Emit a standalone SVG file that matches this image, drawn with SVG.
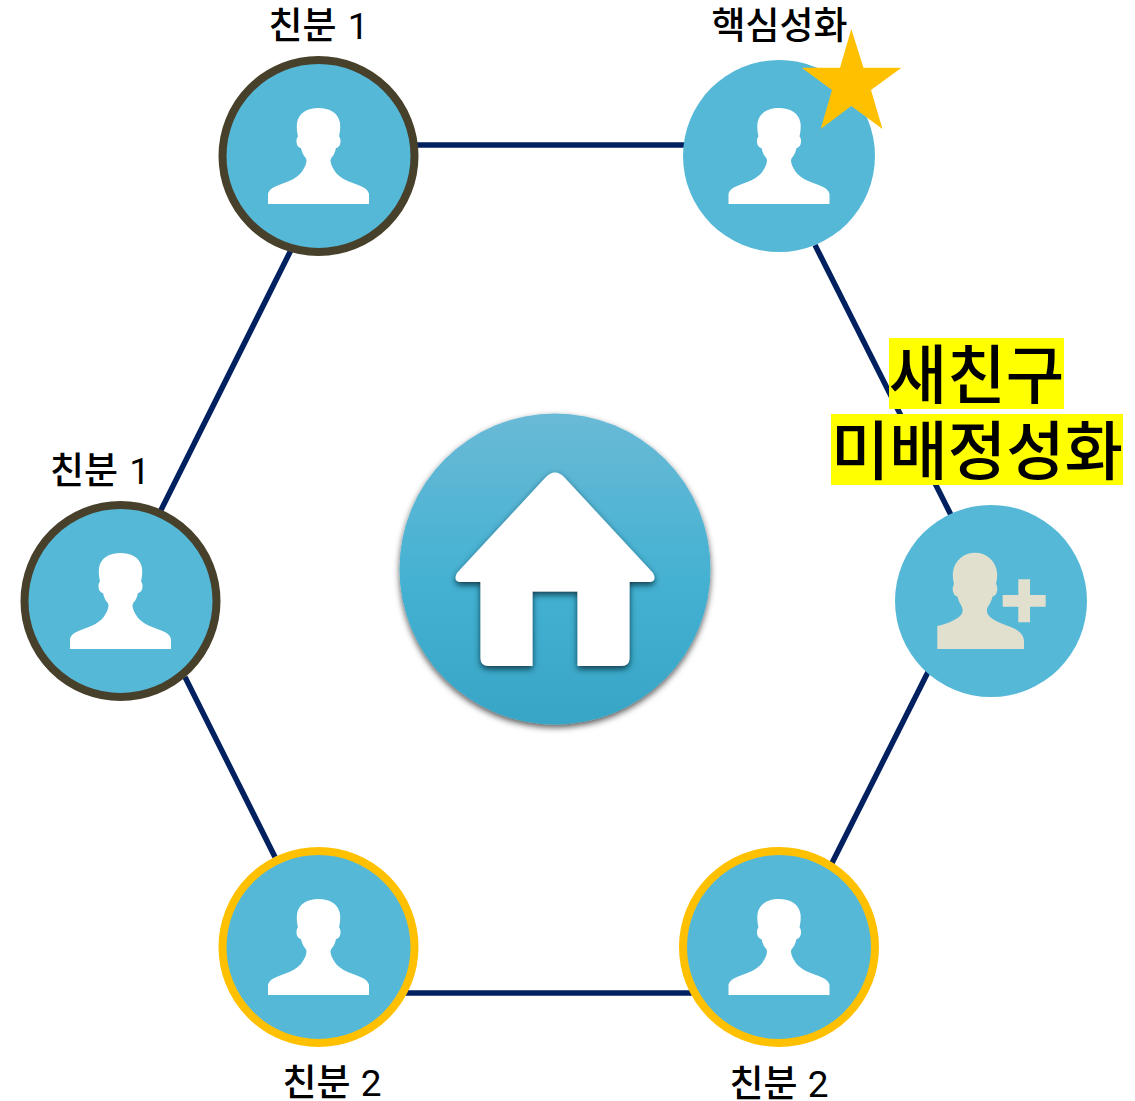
<svg xmlns="http://www.w3.org/2000/svg" width="1135" height="1101" viewBox="0 0 1135 1101">
<style>
text{font-family:Roboto,"Noto Sans CJK KR","Noto Sans",sans-serif;fill:#000;text-anchor:middle;font-weight:500}
text tspan{font-weight:400}
.lb{font-size:37px}
.big{font-size:63.500px}
.c{fill:#56B8D7}
.dark{stroke:#47402A;stroke-width:8}
.gold{stroke:#FFC000;stroke-width:8}
#connectors line{stroke:#002060;stroke-width:5.500;fill:none}
.hl{fill:#FFFF00}
</style>
<defs>
<linearGradient id="hg" x1="0" y1="0" x2="0" y2="1"><stop offset="0" stop-color="#69BAD6"/><stop offset=".55" stop-color="#44B1D2"/><stop offset="1" stop-color="#38A5C6"/></linearGradient>
<filter id="s1" x="-10%" y="-10%" width="120%" height="120%"><feDropShadow dx="0" dy="3" stdDeviation="3" flood-color="#000" flood-opacity=".65"/></filter>
<filter id="s2" x="-10%" y="-10%" width="120%" height="120%"><feDropShadow dx="0" dy="3" stdDeviation="3" flood-color="#0b3a4c" flood-opacity="1"/></filter>
<path id="p" fill="#fff" d="M-50.500 48V38C-49.500 33-44 30.500-37 28C-28 25-20 21-16.500 15.500C-13.500 11-12 7.500-12 4.500C-12 2-14 1-15 -1C-16.500 -4-17 -6-17.500 -8C-21 -8.500-22 -12-22 -15C-22 -17-21.500 -18.500-20.500 -19.500C-21.500 -24-22 -28-21.500 -33C-20 -43-11 -48 0 -48C11 -48 20 -43 21.500 -33C22 -28 21.500 -24 20.500 -19.500C21.500 -18.500 22 -17 22 -15C22 -12 21 -8.500 17.500 -8C17 -6 16.500 -4 15 -1C14 1 12 2 12 4.500C12 7.500 13.500 11 16.500 15.500C20 21 28 25 37 28C44 30.500 49.500 33 50.500 38V48Z"/>
</defs>
<g id="connectors">
<line x1="319" y1="145" x2="779" y2="145"/>
<line x1="815" y1="245" x2="952" y2="517"/>
<line x1="928" y1="672" x2="832" y2="863"/>
<line x1="319" y1="993" x2="779" y2="993"/>
<line x1="185" y1="677" x2="275" y2="857"/>
<line x1="291" y1="250" x2="160" y2="512"/>
</g>
<g id="home">
<circle cx="555" cy="569" r="155.500" fill="url(#hg)" filter="url(#s1)"/>
<path fill="#fff" filter="url(#s2)" d="M546 477Q555 468 564 477L653 573Q657 581 650 582H629.500V658Q629.500 666 621 666H577.500V591.500H532.500V666H489Q480.500 666 480.500 658V582H460Q453 581 457 573Z"/>
</g>
<g id="n-top-left">
<circle class="c dark" cx="318.500" cy="156" r="96"/>
<use href="#p" x="318.500" y="156"/>
<text class="lb" x="318.500" y="39">친분 <tspan dx="2">1</tspan></text>
</g>
<g id="n-top-right">
<circle class="c" cx="779" cy="156" r="96"/>
<use href="#p" x="779" y="156"/>
<text class="lb" x="779.500" y="39">핵심성화</text>
<polygon fill="#FFC000" points="851.300,29 863.500,67.700 901.500,67.700 871,90 882.500,129 851.300,106 820.700,129 832,90 801.700,67.700 840,67.700"/>
</g>
<g id="n-left">
<circle class="c dark" cx="120.500" cy="601" r="96"/>
<use href="#p" x="120.500" y="601"/>
<text class="lb" x="100" y="484">친분 <tspan dx="2">1</tspan></text>
</g>
<g id="n-bottom-left">
<circle class="c gold" cx="318.500" cy="947" r="96"/>
<use href="#p" x="318.500" y="947"/>
<text class="lb" x="332" y="1096">친분 <tspan dx="1">2</tspan></text>
</g>
<g id="n-bottom-right">
<circle class="c gold" cx="779" cy="947" r="96"/>
<use href="#p" x="779" y="947"/>
<text class="lb" x="779" y="1097">친분 <tspan dx="1">2</tspan></text>
</g>
<g id="n-new">
<circle class="c" cx="991" cy="601" r="96"/>
<path fill="#E1DFCD" d="M937.300 649V626C947 624 953 621 959 617C964 613 963 609 961 605C959 602 958 599 957.500 596.500C954 596 952.700 592 952.700 589C952.700 587 953.500 585 954 584C953 580 952.500 576 953 572C954.500 560 964 552.700 975 552.700C986 552.700 995.500 560 997 572C997.500 576 997 580 996 584C997 585 997.300 587 997.300 589C997.300 592 996 596 992.500 596.500C992 599 991 602 989 605C986 609 986 613 990 617C996 622 1006 625 1013 628C1020 631 1024 636 1024 641V649Z"/>
<path fill="#E1DFCD" d="M1018.300 579.300H1030V595H1045.700V606.700H1030V622.300H1018.300V606.700H1002.700V595H1018.300Z"/>
</g>
<g id="label-new">
<rect class="hl" x="889" y="338" width="175" height="71"/>
<rect class="hl" x="831" y="414" width="292" height="71"/>
<text class="big" x="976.500" y="398">새친구</text>
<text class="big" x="977" y="474">미배정성화</text>
</g>
</svg>
